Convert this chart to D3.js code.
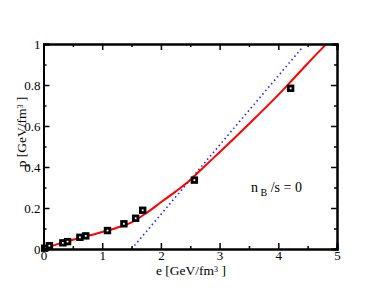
<!DOCTYPE html>
<html>
<head>
<meta charset="utf-8">
<script src="https://cdn.jsdelivr.net/npm/d3@7"></script>
<style>
  body { margin: 0; background: #fff; }
  text { font-family: "Liberation Serif", "DejaVu Serif", serif; fill: #000; }
</style>
</head>
<body>
<script>
// lattice points (squares)
var dataE = [0.02, 0.1, 0.33, 0.41, 0.62, 0.72, 1.09, 1.37, 1.57, 1.69, 2.57, 4.21];
var dataP = [0.004, 0.016, 0.03, 0.036, 0.057, 0.064, 0.09, 0.123, 0.15, 0.189, 0.336, 0.784];

// fit curve (red)
var fitE = [0, 0.25, 0.5, 0.75, 1, 1.25, 1.5, 1.75, 2, 2.25, 2.5, 2.75, 3, 3.25, 3.5, 3.75, 4, 4.25, 4.5, 4.75, 4.82];
var fitP = [0, 0.025, 0.045, 0.063, 0.083, 0.104, 0.13, 0.175, 0.228, 0.28, 0.337, 0.405, 0.472, 0.54, 0.61, 0.68, 0.752, 0.828, 0.905, 0.98, 1.0];

// ideal gas line (blue dotted)
var gasE = [1.5, 4.4];
var gasP = [0, 0.98];

var xTicks = [0, 1, 2, 3, 4, 5];
var yTicks = [0, 0.2, 0.4, 0.6, 0.8, 1];
var yTickLabels = ["0", "0.2", "0.4", "0.6", "0.8", "1"];

var width = 385,
	height = 298;
var margin = {left: 43.5, right: 48, top: 44, bottom: 49};

var svg = d3.select("body").append("svg")
	.attr("width", width)
	.attr("height", height);

var x = d3.scaleLinear().domain([0, 5]).range([margin.left, width - margin.right]);
var y = d3.scaleLinear().domain([0, 1]).range([height - margin.bottom, margin.top]);

var line = d3.line()
	.x(function(d) { return x(d[0]); })
	.y(function(d) { return y(d[1]); });

// blue dotted
svg.append("path")
	.datum(gasE.map(function(e, i) { return [e, gasP[i]]; }))
	.attr("d", line)
	.attr("fill", "none")
	.attr("stroke", "#2020ff")
	.attr("stroke-width", 1.6)
	.attr("stroke-dasharray", "1.5,3");

// red fit
svg.append("path")
	.datum(fitE.map(function(e, i) { return [e, fitP[i]]; }))
	.attr("d", line.curve(d3.curveMonotoneX))
	.attr("fill", "none")
	.attr("stroke", "#ff0000")
	.attr("stroke-width", 2);

// squares
svg.selectAll(".pt")
	.data(dataE.map(function(e, i) { return [e, dataP[i]]; }))
	.enter().append("rect")
	.attr("class", "pt")
	.attr("x", function(d) { return x(d[0]) - 2.3; })
	.attr("y", function(d) { return y(d[1]) - 2.3; })
	.attr("width", 4.6)
	.attr("height", 4.6)
	.attr("fill", "#fff")
	.attr("stroke", "#000")
	.attr("stroke-width", 2.8);

// axes (ticks inside, mirrored)
var minorX = [0.5, 1.5, 2.5, 3.5, 4.5],
	minorY = [0.1, 0.3, 0.5, 0.7, 0.9];

svg.append("g").attr("transform", "translate(0," + y(0) + ")")
	.call(d3.axisBottom(x).tickValues(xTicks).tickSize(-6).tickPadding(2).tickFormat(d3.format("d")));
svg.append("g").attr("transform", "translate(0," + y(0) + ")")
	.call(d3.axisBottom(x).tickValues(minorX).tickSize(-3).tickFormat(""));
svg.append("g").attr("transform", "translate(0," + y(1) + ")")
	.call(d3.axisTop(x).tickValues(xTicks).tickSize(-6).tickFormat(""));
svg.append("g").attr("transform", "translate(0," + y(1) + ")")
	.call(d3.axisTop(x).tickValues(minorX).tickSize(-3).tickFormat(""));

svg.append("g").attr("transform", "translate(" + x(0) + ",0)")
	.call(d3.axisLeft(y).tickValues(yTicks).tickSize(-6).tickPadding(3)
		.tickFormat(function(d, i) { return yTickLabels[i]; }));
svg.append("g").attr("transform", "translate(" + x(0) + ",0)")
	.call(d3.axisLeft(y).tickValues(minorY).tickSize(-3).tickFormat(""));
svg.append("g").attr("transform", "translate(" + x(5) + ",0)")
	.call(d3.axisRight(y).tickValues(yTicks).tickSize(-6).tickFormat(""));
svg.append("g").attr("transform", "translate(" + x(5) + ",0)")
	.call(d3.axisRight(y).tickValues(minorY).tickSize(-3).tickFormat(""));

svg.selectAll(".domain").attr("stroke", "#000").attr("stroke-width", 2);
svg.selectAll(".tick line").attr("stroke", "#000").attr("stroke-width", 1.5);
svg.selectAll(".tick text").style("font-size", "13px").attr("fill", "#000");

// axis titles
var xt = svg.append("text")
	.attr("x", 191)
	.attr("y", 275)
	.attr("text-anchor", "middle")
	.style("font-size", "13.5px");
xt.append("tspan").text("e [GeV/fm");
xt.append("tspan").attr("dy", -3.5).style("font-size", "8px").text("3");
xt.append("tspan").attr("dy", 3.5).text(" ]");

var yt = svg.append("text")
	.attr("transform", "translate(26,132) rotate(-90)")
	.attr("text-anchor", "middle")
	.style("font-size", "13.5px");
yt.append("tspan").text("p [GeV/fm");
yt.append("tspan").attr("dy", -3.5).style("font-size", "8px").text("3");
yt.append("tspan").attr("dy", 3.5).text(" ]");

// annotation
var nt = svg.append("text")
	.attr("x", 251)
	.attr("y", 192)
	.style("font-size", "14px");
nt.append("tspan").text("n");
nt.append("tspan").attr("dy", 4).style("font-size", "10px").text(" B");
nt.append("tspan").attr("dy", -4).text(" /s = 0");
</script>
</body>
</html>
